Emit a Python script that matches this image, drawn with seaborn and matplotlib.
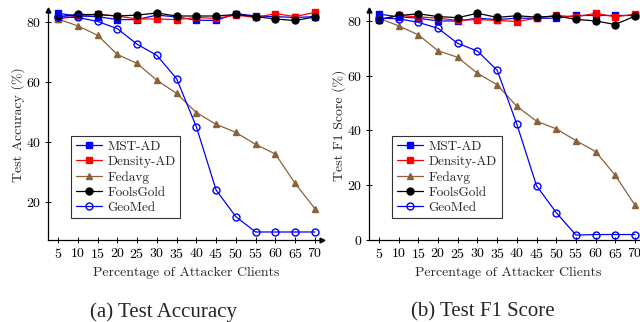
import numpy as np
import pandas as pd
import seaborn as sns
import matplotlib.pyplot as plt

sns.set_style("ticks")
plt.rcParams['font.family'] = ['cmr10', 'DejaVu Serif']
plt.rcParams['axes.formatter.use_mathtext'] = True
plt.rcParams['mathtext.fontset'] = 'cm'

attackers = [5, 10, 15, 20, 25, 30, 35, 40, 45, 50, 55, 60, 65, 70]

# Test accuracy (%)
acc_mst = [82.9, 82.0, 81.8, 80.8, 80.8, 82.3, 81.7, 80.6, 80.5, 82.8, 82.0, 81.8, 81.5, 81.8]
acc_density = [81.0, 82.0, 82.5, 82.0, 81.0, 81.0, 80.8, 81.5, 81.2, 82.3, 81.5, 82.8, 81.8, 83.2]
acc_fedavg = [81.0, 78.7, 75.6, 69.2, 66.2, 60.6, 56.2, 49.8, 45.9, 43.2, 39.2, 36.0, 26.2, 17.8]
acc_foolsgold = [81.8, 82.5, 82.5, 82.0, 82.3, 83.0, 82.0, 82.0, 82.0, 82.5, 81.8, 81.0, 80.5, 81.7]
acc_geomed = [81.8, 81.5, 80.2, 77.8, 72.6, 68.9, 61.1, 45.1, 24.0, 15.1, 10.0, 10.0, 10.0, 10.0]

# Test F1 score (%)
f1_mst = [82.5, 81.5, 81.0, 80.0, 80.0, 81.0, 80.5, 81.0, 81.0, 81.0, 82.0, 82.0, 82.0, 82.0]
f1_density = [80.5, 82.0, 81.5, 81.0, 80.2, 80.5, 80.2, 79.8, 81.0, 82.0, 81.5, 82.8, 81.5, 82.5]
f1_fedavg = [81.0, 78.2, 74.9, 69.1, 66.7, 60.9, 56.7, 48.8, 43.4, 40.6, 36.3, 32.3, 23.6, 12.7]
f1_foolsgold = [80.5, 82.0, 82.6, 81.6, 81.2, 82.8, 81.3, 81.9, 81.4, 81.8, 80.6, 80.0, 78.7, 81.8]
f1_geomed = [81.0, 80.8, 79.5, 77.3, 71.8, 69.0, 62.0, 42.3, 19.8, 10.0, 1.8, 2.0, 2.0, 2.0]

methods = ["MST-AD", "Density-AD", "Fedavg", "FoolsGold", "GeoMed"]
colors = ["#0000ff", "#ff0000", "#8b6239", "#000000", "#0000ff"]
markers = ["s", "s", "^", "o", "o"]
filled = [True, True, True, True, False]
msizes = [5, 5, 4.5, 5, 5]

W, H = 640, 322
fig = plt.figure(figsize=(6.4, 3.22), dpi=100)


def make_axes(left, right, top, bottom, xlim, ylim):
    ax = fig.add_axes([left / W, 1 - bottom / H, (right - left) / W, (bottom - top) / H])
    ax.set_xlim(*xlim)
    ax.set_ylim(*ylim)
    return ax


def draw(ax, series, ylabel, yticks, caption, cap_x, xlab_x):
    for name, vals, c, m, f, ms in zip(methods, series, colors, markers, filled, msizes):
        sns.lineplot(x=attackers, y=vals, ax=ax, color=c, marker=m, markersize=ms,
                     markerfacecolor=c if f else "none", markeredgecolor=c,
                     markeredgewidth=1.0, linewidth=0.9, label=name, clip_on=False)
    for s in ["top", "right"]:
        ax.spines[s].set_visible(False)
    for s in ["left", "bottom"]:
        ax.spines[s].set_linewidth(0.9)
        ax.spines[s].set_color("black")
    ax.plot(0, 1, "^k", markersize=3.5, transform=ax.transAxes, clip_on=False)
    ax.plot(1, 0, ">k", markersize=3.5, transform=ax.transAxes, clip_on=False)
    ax.set_xticks(attackers)
    ax.set_yticks(yticks)
    ax.tick_params(direction="inout", length=4, width=0.7, labelsize=10, pad=3, colors="black")
    ax.set_xlabel("Percentage of Attacker Clients", fontsize=10)
    ax.set_ylabel(ylabel, fontsize=10)
    ax.yaxis.set_label_coords(-23 / 274, 0.5)
    pos = ax.get_position()
    ax.xaxis.set_label_coords((xlab_x - pos.x0 * W) / (pos.width * W), -27 / 230)
    leg = ax.legend(loc="upper left", bbox_to_anchor=(0.084, 0.452), borderaxespad=0,
                    fontsize=9.5, frameon=True, fancybox=False, handlelength=2.0,
                    handletextpad=0.4, labelspacing=0.22, borderpad=0.35)
    leg.get_frame().set_edgecolor("black")
    leg.get_frame().set_linewidth(0.8)
    fig.text(cap_x / W, 1 - 312 / H, caption, ha="center", va="center",
             fontsize=15, family="Liberation Serif")


ax1 = make_axes(48, 322, 10, 240, (2.47, 71.8), (7.33, 84))
draw(ax1, [acc_mst, acc_density, acc_fedavg, acc_foolsgold, acc_geomed],
     "Test Accuracy (%)", [20, 40, 60, 80], "(a) Test Accuracy", 163, 186)

ax2 = make_axes(369, 648, 10, 240, (2.46, 73.3), (0, 84))
draw(ax2, [f1_mst, f1_density, f1_fedavg, f1_foolsgold, f1_geomed],
     "Test F1 Score (%)", [0, 20, 40, 60, 80], "(b) Test F1 Score", 483, 508)

fig.savefig("out.png", dpi=100)
